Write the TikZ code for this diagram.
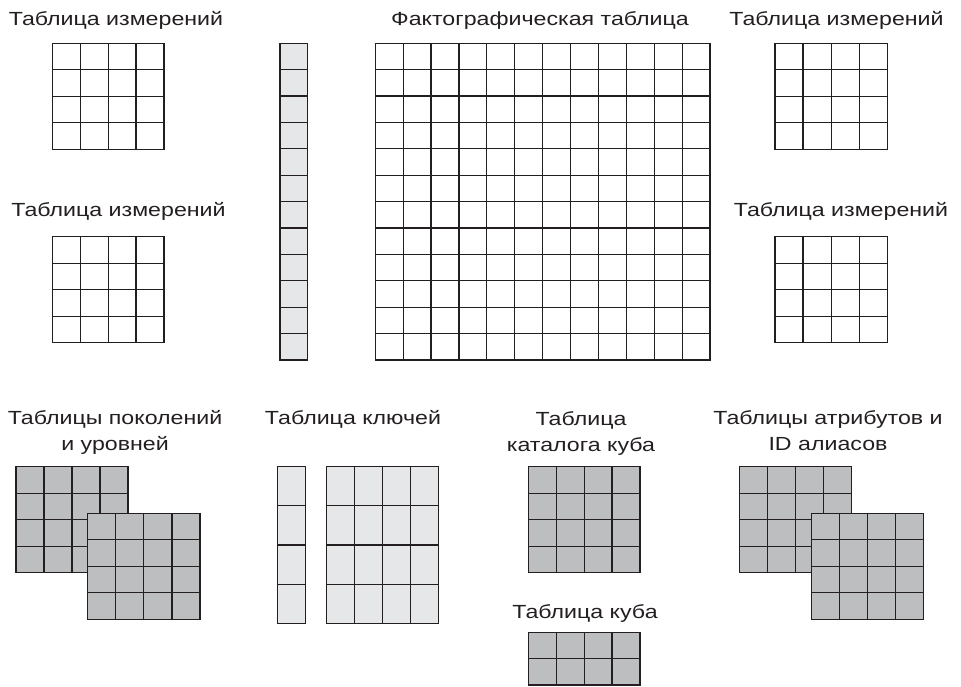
\documentclass[tikz,border=0pt]{standalone}
\usepackage{fontspec}
\setmainfont{Liberation Sans}[FakeStretch=1.22]
\definecolor{lightcell}{RGB}{230,231,232}
\definecolor{darkcell}{RGB}{188,190,192}
\definecolor{lineink}{RGB}{35,31,32}
\newcommand\gridtab[7]{%
  \filldraw[gridline,fill=#7] (#1,#2) rectangle (#3,#4);
  \pgfmathtruncatemacro\gc{#5-1}%
  \pgfmathtruncatemacro\gr{#6-1}%
  \ifnum\gc>0 \foreach \i in {1,...,\gc} {\draw[gridline] ({#1+\i*(#3-#1)/#5},#2) -- ({#1+\i*(#3-#1)/#5},#4);}\fi
  \ifnum\gr>0 \foreach \j in {1,...,\gr} {\draw[gridline] (#1,{#2+\j*(#4-#2)/#6}) -- (#3,{#2+\j*(#4-#2)/#6});}\fi
}
\begin{document}
\begin{tikzpicture}[x=1pt,y=-1pt,
  gridline/.style={draw=lineink,line width=1.2pt},
  lbl/.style={anchor=base,inner sep=0pt,align=center,text=lineink,font=\fontsize{19}{26}\selectfont}]
\useasboundingbox (0,0) rectangle (961,686);
% top area
\gridtab{52.3}{43.3}{164}{149.3}{4}{4}{white}
\gridtab{52.3}{236.7}{164}{342.7}{4}{4}{white}
\gridtab{280}{43.3}{307.7}{360}{1}{12}{lightcell}
\gridtab{375.3}{43.3}{710}{360}{12}{12}{white}
\gridtab{775}{43.3}{887.3}{149.3}{4}{4}{white}
\gridtab{775}{236.7}{887.3}{342.7}{4}{4}{white}
% bottom area
\gridtab{16}{466.7}{128}{572.7}{4}{4}{darkcell}
\gridtab{87.7}{513.3}{200}{619.3}{4}{4}{darkcell}
\gridtab{277.7}{466.7}{305.7}{623.3}{1}{4}{lightcell}
\gridtab{326.7}{466.7}{438.3}{623.3}{4}{4}{lightcell}
\gridtab{528.3}{466.7}{640}{572.7}{4}{4}{darkcell}
\gridtab{528.3}{632.7}{640}{685}{4}{2}{darkcell}
\gridtab{739.3}{466.7}{851.7}{572.7}{4}{4}{darkcell}
\gridtab{811.7}{513.3}{923.3}{619.3}{4}{4}{darkcell}
% labels
\node[lbl] (dimTL) at (116,25) {Таблица измерений};
\node[lbl] (fact) at (540,25) {Фактографическая таблица};
\node[lbl] (dimTR) at (836.5,25) {Таблица измерений};
\node[lbl] (dimML) at (118.5,216) {Таблица измерений};
\node[lbl] (dimMR) at (841,216) {Таблица измерений};
\node[lbl] (gen) at (115,450) {Таблицы поколений\\и уровней};
\node[lbl] (keys) at (353,424) {Таблица ключей};
\node[lbl] (catalog) at (581,451) {Таблица\\каталога куба};
\node[lbl] (cube) at (585,618) {Таблица куба};
\node[lbl] (attr) at (828,450) {Таблицы атрибутов и\\ID алиасов};
\end{tikzpicture}
\end{document}
